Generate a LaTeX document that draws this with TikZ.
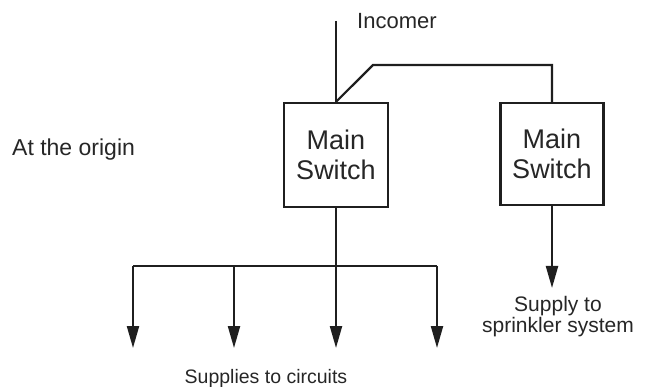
\documentclass[tikz,border=0pt]{standalone}
\usepackage{fontspec}
\setmainfont{Liberation Sans}
\usetikzlibrary{arrows.meta}
\begin{document}
\begin{tikzpicture}[x=1pt,y=-1pt,
  wire/.style={line width=2.2pt,color=black!88},
  feed/.style={wire,-{Triangle[length=22pt,width=12pt]}},
  switchbox/.style={draw=black!88,line width=2.2pt,align=center,inner sep=0pt,
    font=\fontsize{27}{29.5}\selectfont,text=black!85},
  lbl/.style={inner sep=0pt,text=black!85}]
\useasboundingbox (0,0) rectangle (645,387);
\node[switchbox,minimum width=104pt,minimum height=104pt] (sw1) at (336,155) {Main\\Switch};
\node[switchbox,minimum width=103pt,minimum height=102pt] (sw2) at (552,154) {Main\\Switch};
\node[lbl,anchor=base west,font=\fontsize{22}{24}\selectfont] (inc) at (357,29) {Incomer};
\node[lbl,anchor=base west,font=\fontsize{23}{25}\selectfont] (orig) at (12,156) {At the origin};
\node[lbl,anchor=base,font=\fontsize{19.5}{22}\selectfont] (sup1) at (266,383) {Supplies to circuits};
\node[lbl,anchor=north,align=center,font=\fontsize{21}{21.5}\selectfont] (sup2) at (558,296) {Supply to\\sprinkler system};
\coordinate (top) at (336,21);
\coordinate (bend) at (373,65);
\coordinate (corner) at (552,65);
\coordinate (bus) at (336,266);
\coordinate (b1) at (133,266);
\coordinate (b2) at (234,266);
\coordinate (b4) at (437,266);
\coordinate (t1) at (133,348);
\coordinate (t2) at (234,348);
\coordinate (t3) at (336,348);
\coordinate (t4) at (437,348);
\coordinate (t5) at (552,288);
\draw[wire] (top) -- (sw1.north);
\draw[wire,line join=miter] (sw1.north) -- (bend) -- (corner) -- (sw2.north);
\draw[wire] (sw1.south) -- (bus);
\draw[wire] (b1) -- (b4);
\draw[feed] (b1) -- (t1);
\draw[feed] (b2) -- (t2);
\draw[feed] (bus) -- (t3);
\draw[feed] (b4) -- (t4);
\draw[feed] (sw2.south) -- (t5);
\end{tikzpicture}
\end{document}
